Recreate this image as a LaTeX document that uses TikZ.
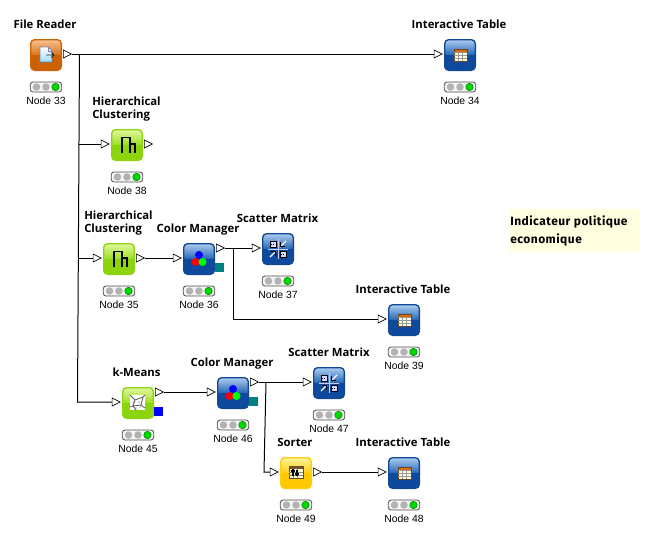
\documentclass[tikz,border=0pt]{standalone}
\usepackage{fontspec}
\setmainfont{Liberation Sans}
\newfontfamily\titlefont{Open Sans}
\newfontfamily\notefont[LetterSpace=4]{Fira Sans}
\usetikzlibrary{shapes.geometric}
\definecolor{teal}{RGB}{0,128,128}
\definecolor{notebg}{RGB}{255,255,224}
\definecolor{edgeblue}{RGB}{16,72,148}
\definecolor{edgegreen}{RGB}{140,212,18}
\definecolor{edgeorange}{RGB}{204,98,10}
\definecolor{edgeyellow}{RGB}{255,205,20}
\pgfdeclareverticalshading{blueface}{100bp}{rgb(0bp)=(.05,.29,.62); rgb(25bp)=(.05,.29,.62); rgb(50bp)=(.05,.29,.62); rgb(51bp)=(.16,.42,.72); rgb(75bp)=(.68,.8,.94); rgb(100bp)=(.68,.8,.94)}
\pgfdeclareverticalshading{greenface}{100bp}{rgb(0bp)=(.55,.83,.05); rgb(25bp)=(.55,.83,.05); rgb(50bp)=(.55,.83,.05); rgb(51bp)=(.62,.88,.15); rgb(75bp)=(.88,.97,.62); rgb(100bp)=(.88,.97,.62)}
\pgfdeclareverticalshading{orangeface}{100bp}{rgb(0bp)=(.8,.38,0); rgb(25bp)=(.8,.38,0); rgb(50bp)=(.8,.38,0); rgb(51bp)=(.86,.46,.12); rgb(75bp)=(.96,.76,.56); rgb(100bp)=(.96,.76,.56)}
\pgfdeclareverticalshading{yellowface}{100bp}{rgb(0bp)=(1,.78,0); rgb(25bp)=(1,.78,0); rgb(50bp)=(1,.78,0); rgb(51bp)=(1,.82,.1); rgb(75bp)=(1,.95,.6); rgb(100bp)=(1,.95,.6)}

\begin{document}
\begin{tikzpicture}[x=0.75pt, y=-0.75pt,
  knob/.style={minimum size=23pt, inner sep=0pt, rounded corners=3pt, line width=1pt},
  blueknob/.style={knob, draw=edgeblue, shading=blueface},
  greenknob/.style={knob, draw=edgegreen, shading=greenface},
  orangeknob/.style={knob, draw=edgeorange, shading=orangeface},
  yellowknob/.style={knob, draw=edgeyellow, shading=yellowface},
  port/.style={isosceles triangle, isosceles triangle stretches, draw=black, fill=white, line width=0.5pt, inner sep=0pt, minimum height=6pt, minimum width=6pt},
  wire/.style={black, line width=0.75pt},
  lightbar/.style={draw=black!70, fill=black!4, rounded corners=2pt, line width=0.6pt, minimum width=23.5pt, minimum height=7.5pt, inner sep=0pt},
  lamp/.style={circle, fill=black!30, minimum size=5.6pt, inner sep=0pt},
  lampon/.style={circle, draw=green!50!black, fill=green!85!black, minimum size=5.6pt, inner sep=0pt, line width=0.4pt},
  caption/.style={font=\fontsize{7.8}{9}\selectfont, inner sep=0pt},
  title/.style={font=\titlefont\bfseries\fontsize{8.5}{9.8}\selectfont, inner sep=0pt, align=left},
  oneline/.style={title, text height=7.4pt, text depth=1.3pt},
  flag/.style={minimum size=6.6pt, inner sep=0pt}]
\useasboundingbox (0,0) rectangle (650,536);

% node bodies, lamps and captions
\foreach \id/\px/\py/\kind in {33/46/55/orangeknob, 34/460/55/blueknob, 38/127/145/greenknob,
    35/119/259/greenknob, 36/199/259/blueknob, 37/278/249/blueknob, 39/404/320/blueknob,
    45/138/403/greenknob, 46/233/393/blueknob, 47/329/383/blueknob, 49/296/473/yellowknob, 48/404/473/blueknob} {
  \node[\kind] (n\id) at (\px,\py) {};
  \node[lightbar] (bar\id) at (\px,\py+32) {};
  \node[lamp] (la\id) at (\px-9.5,\py+32) {};
  \node[lamp] (lb\id) at (\px,\py+32) {};
  \node[lampon] (lc\id) at (\px+9.5,\py+32) {};
  \node[caption] (c\id) at (\px,\py+46) {Node \id};
}

% ports
\foreach \id/\px/\py in {34/460/54, 38/127/144, 35/119/258, 36/199/258, 37/278/248, 39/404/319,
    45/138/402, 46/233/392, 47/329/382, 49/296/472, 48/404/472}
  \node[port, anchor=apex] (in\id) at (\px-17,\py) {};
\foreach \id/\px/\py in {33/46/54, 38/127/144, 35/119/258, 36/199/248, 45/138/392, 46/233/382, 49/296/472}
  \node[port, anchor=lower side] (out\id) at (\px+17,\py) {};

% colour and cluster flags
\node[flag, fill=teal] (f36) at (219.5,267.5) {};
\node[flag, fill=teal] (f46) at (253.5,401.5) {};
\node[flag, fill=blue] (f45) at (158.5,411.5) {};

% titles
\node[oneline] (t33) at (45,24) {File Reader};
\node[oneline] (t34) at (459,24) {Interactive Table};
\node[title, anchor=west] (t38) at (92,109.5) {Hierarchical\\Clustering};
\node[title, anchor=west] (t35) at (84,223.5) {Hierarchical\\Clustering};
\node[oneline] (t36) at (198,228) {Color Manager};
\node[oneline] (t37) at (277.5,218) {Scatter Matrix};
\node[oneline] (t39) at (403,289) {Interactive Table};
\node[oneline] (t45) at (136.5,372) {k-Means};
\node[oneline] (t46) at (232,362) {Color Manager};
\node[oneline] (t47) at (329,352) {Scatter Matrix};
\node[oneline] (t49) at (295,442) {Sorter};
\node[oneline] (t48) at (403,442) {Interactive Table};

% note
\node[fill=notebg, minimum width=97.5pt, minimum height=32.5pt, inner sep=0pt] (memo) at (574.75,230.5) {};
\node[font=\notefont\bfseries\fontsize{9}{14}\selectfont, align=left, anchor=west, inner sep=0pt] (memotext) at (510,231) {Indicateur politique\\economique};

% connectors
\coordinate (bus1) at (79.5,54);
\coordinate (bus1b) at (79,144);
\coordinate (bus1c) at (78.5,258);
\coordinate (bus1d) at (77.5,402);
\coordinate (bus2) at (233,248);
\coordinate (bus2b) at (233,319);
\coordinate (bus3) at (266,382);
\coordinate (bus3b) at (264,472);
\draw[wire] (out33.apex) -- (in34.lower side);
\draw[wire] (bus1) -- (bus1d) -- (in45.lower side);
\draw[wire] (bus1b) -- (in38.lower side);
\draw[wire] (bus1c) -- (in35.lower side);
\draw[wire] (out35.apex) -- (in36.lower side);
\draw[wire] (out36.apex) -- (in37.lower side);
\draw[wire] (bus2) -- (bus2b) -- (in39.lower side);
\draw[wire] (out45.apex) -- (in46.lower side);
\draw[wire] (out46.apex) -- (in47.lower side);
\draw[wire] (bus3) -- (bus3b) -- (in49.lower side);
\draw[wire] (out49.apex) -- (in48.lower side);

% table icons
\foreach \id in {34,39,48} {
  \begin{scope}[shift={(n\id)}]
    \fill[yellow!15!white] (-6,-6) rectangle (7,6);
    \fill[orange!85!black] (-6,-6) rectangle (7,-3);
    \draw[black!45!brown, line width=0.4pt] (-6,-6) rectangle (7,6);
    \foreach \k in {-2,2} \draw[black!40, line width=0.4pt] (\k,-3) -- (\k,6);
    \draw[black!40, line width=0.4pt] (-6,-3) -- (7,-3) (-6,0) -- (7,0) (-6,3) -- (7,3);
  \end{scope}
}

% scatter matrix icons
\foreach \id in {37,47} {
  \begin{scope}[shift={(n\id)}]
    \draw[white!80!blue, line width=0.5pt] (-10,0) -- (10,0) (0,-10) -- (0,10);
    \draw[white, line width=0.9pt] (8,-8) -- (2,-2) (-8,8) -- (-2,2);
    \draw[black, line width=0.7pt] (2.5,-7) -- (2.5,-2.5) -- (7,-2.5) (-2.5,7) -- (-2.5,2.5) -- (-7,2.5);
    \fill[white!85!blue] (-8,-8) rectangle (-2,-2) (2,2) rectangle (8,8);
    \draw[black, line width=0.6pt] (-8,-8) rectangle (-2,-2) (2,2) rectangle (8,8);
    \draw[black, densely dotted, line width=0.6pt] (-7,-5) -- (-3,-5) (3,5) -- (7,5);
  \end{scope}
}

% clustering icons
\foreach \id in {38,35} {
  \begin{scope}[shift={(n\id)}]
    \draw[black, line width=1.4pt, line cap=butt] (-5,8) -- (-5,-7.5) -- (3,-7.5) -- (3,8);
    \draw[black, line width=1.1pt] (3,-1) -- (8,-1) -- (8,8);
  \end{scope}
}

% colour manager icons
\foreach \id in {36,46} {
  \begin{scope}[shift={(n\id)}]
    \fill[blue] (0,-4) circle (4);
    \fill[red] (-3.5,3) circle (4);
    \fill[green] (3.5,3) circle (4);
  \end{scope}
}

% k-means icon
\begin{scope}[shift={(n45)}]
  \fill[white] (-8,-8) rectangle (7,7);
  \draw[black!65, line width=0.6pt] (-8,-8) -- (-3,-3) -- (5,-6) -- (7,-8) (-3,-3) -- (-5,3) -- (-8,4) (-5,3) -- (-2,7) (5,-6) -- (3,2) -- (7,5) (3,2) -- (-5,3);
  \fill[black!70] (-5,-1) circle (0.6) (1,-1) circle (0.6) (-2,5) circle (0.6) (2,4) circle (0.6);
\end{scope}

% sorter icon
\begin{scope}[shift={(n49)}]
  \fill[yellow!15!white] (-7,-7) rectangle (7,5);
  \fill[black!35!brown] (-7,-7) rectangle (7,-4);
  \draw[black!50!olive, line width=0.4pt] (-7,-7) rectangle (7,5);
  \foreach \k in {-3,1} \draw[black!45, line width=0.4pt] (\k,-4) -- (\k,5);
  \draw[black!45, line width=0.4pt] (-7,-1) -- (7,-1) (-7,2) -- (7,2);
  \draw[black, line width=0.9pt] (-3,-4) -- (-3,3) (-5,-2) -- (-1,-2);
  \draw[black, line width=0.9pt] (1,-3) -- (1,3) (-1,1) -- (3,1);
\end{scope}

% file icon
\begin{scope}[shift={(n33)}]
  \fill[top color=white, bottom color=blue!35!cyan!40!white, draw=blue!40!black!50, line width=0.4pt] (-6,-8) -- (2,-8) -- (6,-4) -- (6,7) -- (-6,7) -- cycle;
  \draw[blue!40!black!50, line width=0.4pt] (2,-8) -- (2,-4) -- (6,-4);
  \draw[black!85, line width=0.6pt] (0,0) -- (8,0) (5.5,-2.5) -- (8,0) -- (5.5,2.5);
\end{scope}
\end{tikzpicture}
\end{document}
